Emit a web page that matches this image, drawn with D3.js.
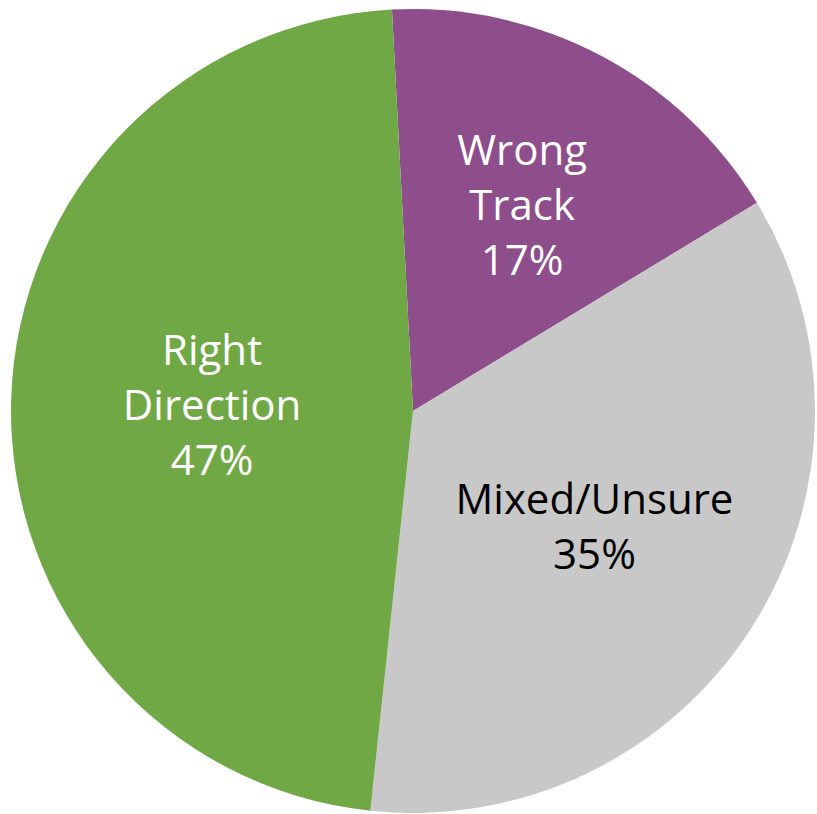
<!DOCTYPE html>
<html>
<head>
<meta charset="utf-8">
<script src="https://cdn.jsdelivr.net/npm/d3@7"></script>
<style>
  html, body { margin: 0; padding: 0; background: #fff; }
  svg { display: block; }
  .lbl { font-family: "Open Sans", "Noto Sans", sans-serif; font-size: 42px; }
</style>
</head>
<body>
<svg id="chart" width="817" height="814"></svg>
<script>
// slices, clockwise from the top
const categories = ["Wrong Track", "Mixed/Unsure", "Right Direction"];
const labelLines = [["Wrong", "Track"], ["Mixed/Unsure"], ["Right", "Direction"]];
const values = [17, 35, 47];
const percentLabels = ["17%", "35%", "47%"];
const colors = ["#8E4D8B", "#C8C8C8", "#70A845"];
const textColors = ["#ffffff", "#000000", "#ffffff"];

(function () {
  const svg = d3.select("#chart");
  const cx = 413, cy = 411, R = 402;
  const lineH = 55;
  // how far out each label sits (share of the radius), like Excel's best fit
  const labelRadius = [0.58, 0.535, 0.5];

  const g = svg.append("g").attr("transform", `translate(${cx},${cy})`);

  // pie starts a touch left of 12 o'clock, like the original
  const start = -3 * Math.PI / 180;
  const pie = d3.pie().sort(null).value(d => d.value)
    .startAngle(start).endAngle(start + 2 * Math.PI);

  const data = categories.map((c, i) => ({
    name: c, value: values[i], lines: labelLines[i].concat([percentLabels[i]]),
    color: colors[i], text: textColors[i]
  }));

  const arcs = pie(data);
  const arc = d3.arc().innerRadius(0).outerRadius(R);

  g.selectAll("path.slice").data(arcs).enter()
    .append("path")
    .attr("class", "slice")
    .attr("d", arc)
    .attr("fill", d => d.data.color);

  const lbl = g.selectAll("text.lbl").data(arcs).enter()
    .append("text")
    .attr("class", "lbl")
    .attr("text-anchor", "middle")
    .attr("fill", d => d.data.text)
    .attr("transform", (d, i) => {
      const r = R * labelRadius[i];
      const [x, y] = d3.arc().innerRadius(r).outerRadius(r).centroid(d);
      return `translate(${x},${y})`;
    });

  lbl.each(function (d) {
    const n = d.data.lines.length;
    const top = -(n - 1) * lineH / 2;
    d3.select(this).selectAll("tspan").data(d.data.lines).enter()
      .append("tspan")
      .attr("x", 0)
      .attr("y", (t, i) => top + i * lineH)
      .attr("dy", "0.35em")
      .text(t => t);
  });
})();
</script>
</body>
</html>
